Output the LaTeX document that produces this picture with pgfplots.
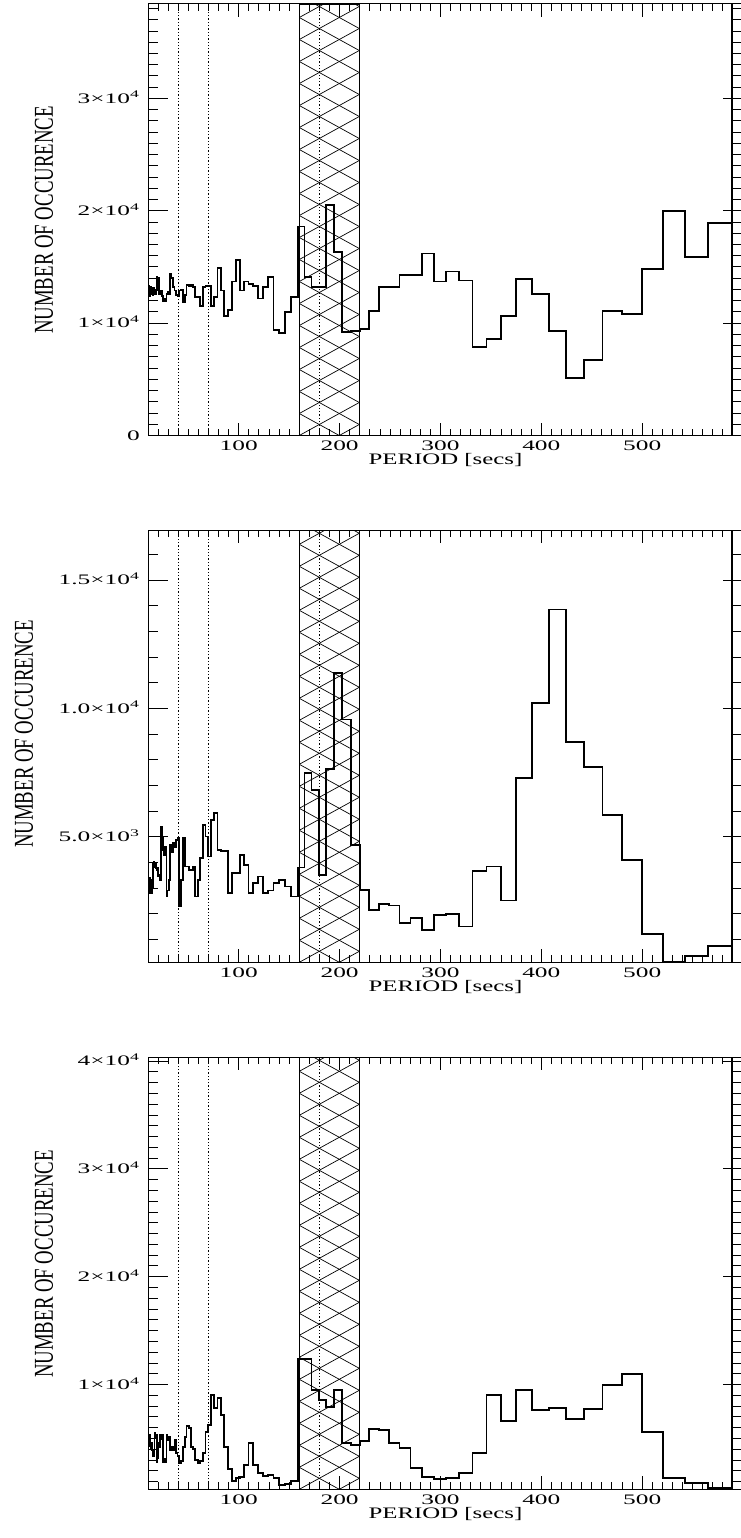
\documentclass[border=0pt]{standalone}
\usepackage{fontspec}
\setmainfont{Liberation Serif}
\usepackage{graphicx}
\usepackage{pgfplots}
\usepackage{pgfplotstable}
\pgfplotsset{compat=1.18}

% wide lettering for tick labels
\newcommand{\hs}[1]{\scalebox{1.75}[1]{#1}}
\newcommand{\tl}[2]{\hs{#1×10\textsuperscript{#2}}}
\newcommand{\ticksize}{\fontsize{14.5}{17}\selectfont}
\newcommand{\labsize}{\fontsize{16}{19}\selectfont}

% histogram counts per period bin (left bin edge, three data sets)
\pgfplotstableread{
x a b c
10.0 16500 1900 6550
10.5 12600 3100 5000
11.0 13300 3300 4500
11.4 12400 2800 5300
11.9 13000 3400 4300
12.4 12600 3000 4600
12.9 13200 3300 4000
13.5 12600 2800 4600
14.0 13000 3200 3900
14.6 12500 3000 3620
15.2 13100 3970 3400
15.9 12700 4000 3700
16.5 13000 3800 5470
17.2 12600 3950 5000
18.0 12900 3780 5300
18.7 14100 3700 2840
19.5 13600 3800 3200
20.3 14000 3450 4540
21.2 12600 3500 4200
22.1 12600 3300 5320
23.0 12900 5400 4900
24.0 12400 5000 5300
25.0 12000 4490 2840
26.0 12200 4300 3100
27.1 12000 4600 2840
28.3 12600 2670 5320
29.4 12800 2900 4800
30.7 12600 3300 5100
32.0 14400 4690 3920
33.3 14000 4400 4200
34.7 13200 4750 3900
36.2 12900 4600 4850
37.7 12500 4880 3620
39.3 12400 4950 3400
40.9 12900 2280 2690
42.6 13000 3320 2900
44.4 11900 4950 4240
46.3 12500 3840 5160
48.2 13400 3840 6150
50.3 13300 3710 6000
52.4 13400 3700 4240
54.5 13200 3840 4000
56.8 12300 2670 3000
59.2 12300 3320 2690
61.7 11500 4170 2900
64.3 13200 5470 3620
67.0 13300 5010 5630
69.8 13300 4230 6240
72.7 11500 5660 9030
75.7 12300 5920 7790
78.9 14900 4490 8720
82.2 12900 4430 7170
85.7 10600 4430 4240
89.2 11200 2800 2190
93.0 13700 3580 1080
96.9 15600 3580 1300
100.9 12900 4300 1450
105.2 13700 3910 2530
109.6 13500 2800 4600
114.2 13300 3190 2530
118.9 12200 3450 1760
123.9 13200 2800 1510
129.1 14100 2900 1600
134.5 9400 3190 1300
140.2 9100 3300 690
146.0 11000 3060 780
152.1 12300 2670 1080
158.5 18600 3800 12340
165.1 14100 7490 12340
172.1 13200 6810 9490
179.3 13200 3520 8560
186.8 20500 7640 7890
194.6 16300 11390 9490
202.7 9200 9570 4600
211.2 9300 4690 4390
220.1 9500 2930 4790
229.3 11100 2150 5840
238.9 13200 2380 5780
248.9 13200 2320 4600
259.3 14300 1630 4080
270.2 14300 1820 2230
281.5 16200 1370 1450
293.3 13700 1950 1210
305.6 14600 2000 1300
318.4 13800 1500 1760
331.7 7900 3650 3670
345.6 8600 3840 9030
360.1 10600 2510 6640
375.2 13900 7280 9490
390.9 12600 10210 7640
407.3 9300 13850 7850
424.3 5100 8700 6830
442.1 6700 7700 7700
460.6 11100 5860 9950
479.9 10800 4080 10970
500.0 14800 1210 5620
520.9 20000 130 1360
542.7 15900 350 830
565.4 18900 740 370
589.1 18900 740 370
}\hist

\tikzset{
  hatchline/.style={line width=0.7pt, black},
  markline/.style={line width=1.3pt, dash pattern=on 1.3pt off 2pt},
}

\pgfplotsset{
  periodaxis/.style={
    scale only axis, width=595pt, anchor=north west,
    xmin=10, xmax=600,
    scaled x ticks=false, scaled y ticks=false,
    xtick={100,200,300,400,500},
    xticklabels={\hs{100},\hs{200},\hs{300},\hs{400},\hs{500}},
    minor xtick={20,30,...,590},
    tick align=inside,
    major x tick style={/pgfplots/major tick length=13pt},
    minor x tick style={/pgfplots/minor tick length=7pt},
    major y tick style={/pgfplots/major tick length=20pt},
    minor y tick style={/pgfplots/minor tick length=10pt},
    tick style={line width=0.9pt, black},
    axis line style={line width=1pt},
    xticklabel style={font=\ticksize, inner sep=0pt, yshift=-5pt},
    yticklabel style={font=\ticksize, inner sep=0pt, anchor=base east, xshift=-8pt, yshift=-4.8pt},
    xlabel={\scalebox{1.55}[1]{PERIOD [secs]}},
    xlabel style={font=\labsize, inner sep=0pt, yshift=-3pt},
    hist/.style={const plot, line width=1.8pt, black},
  },
}

% reference lines, the 160-220 s band and the end-of-range bar
\newcommand{\decor}[3]{%
  \draw[markline] (axis cs:40,#1) -- (axis cs:40,#2);
  \draw[markline] (axis cs:70,#1) -- (axis cs:70,#2);
  \draw[markline] (axis cs:180,#1) -- (axis cs:180,#2);
  \draw[line width=0.9pt] (axis cs:160,#1) rectangle (axis cs:220,#2);
  \draw[line width=2.5pt] (axis cs:589.1,#1) -- (axis cs:589.1,#2);
  \coordinate (#3l) at (axis cs:160,#1);
  \coordinate (#3u) at (axis cs:220,#2);
}
\newcommand{\hatch}[1]{%
  \begin{scope}
    \clip (#1l) rectangle (#1u);
    \foreach \k in {-3,...,22}{
      \draw[hatchline] (#1l) ++(0pt,{\k*22pt}) -- ++(66pt,36.3pt);
      \draw[hatchline] (#1l) ++(0pt,{\k*22pt}) -- ++(66pt,-36.3pt);
    }
  \end{scope}
}
\newcommand{\ylab}{\scalebox{1.45}[1]{\rotatebox{90}{\fontsize{18.8}{20}\selectfont NUMBER OF OCCURENCE}}}

\begin{document}
\begin{tikzpicture}
\begin{axis}[periodaxis, at={(148pt,-4pt)}, height=431.5pt,
  ymin=0, ymax=38400,
  ytick={0,10000,20000,30000},
  yticklabels={\hs{0},\tl{1}{4},\tl{2}{4},\tl{3}{4}},
  minor ytick={1000,2000,...,38000}]
  \decor{0}{38400}{pa}
  \addplot[hist] table[x=x,y=a]{\hist};
\end{axis}
\hatch{pa}
\node at (44pt,-220pt) {\ylab};

\begin{axis}[periodaxis, at={(148pt,-530pt)}, height=432.3pt,
  ymin=105, ymax=16950,
  ytick={5000,10000,15000},
  yticklabels={\tl{5.0}{3},\tl{1.0}{4},\tl{1.5}{4}},
  minor ytick={1000,2000,...,16000}]
  \decor{105}{16950}{pb}
  \addplot[hist] table[x=x,y=b]{\hist};
\end{axis}
\hatch{pb}
\node at (24pt,-734pt) {\ylab};

\begin{axis}[periodaxis, at={(148pt,-1057.3pt)}, height=432pt,
  ymin=280, ymax=40350,
  ytick={10000,20000,30000,40000},
  yticklabels={\tl{1}{4},\tl{2}{4},\tl{3}{4},\tl{4}{4}},
  minor ytick={1000,2000,...,40000}]
  \decor{280}{40350}{pc}
  \addplot[hist] table[x=x,y=c]{\hist};
\end{axis}
\hatch{pc}
\node at (44pt,-1264pt) {\ylab};

\pgfresetboundingbox
\path[use as bounding box] (0pt,0pt) rectangle (740pt,-1538pt);
\end{tikzpicture}
\end{document}
